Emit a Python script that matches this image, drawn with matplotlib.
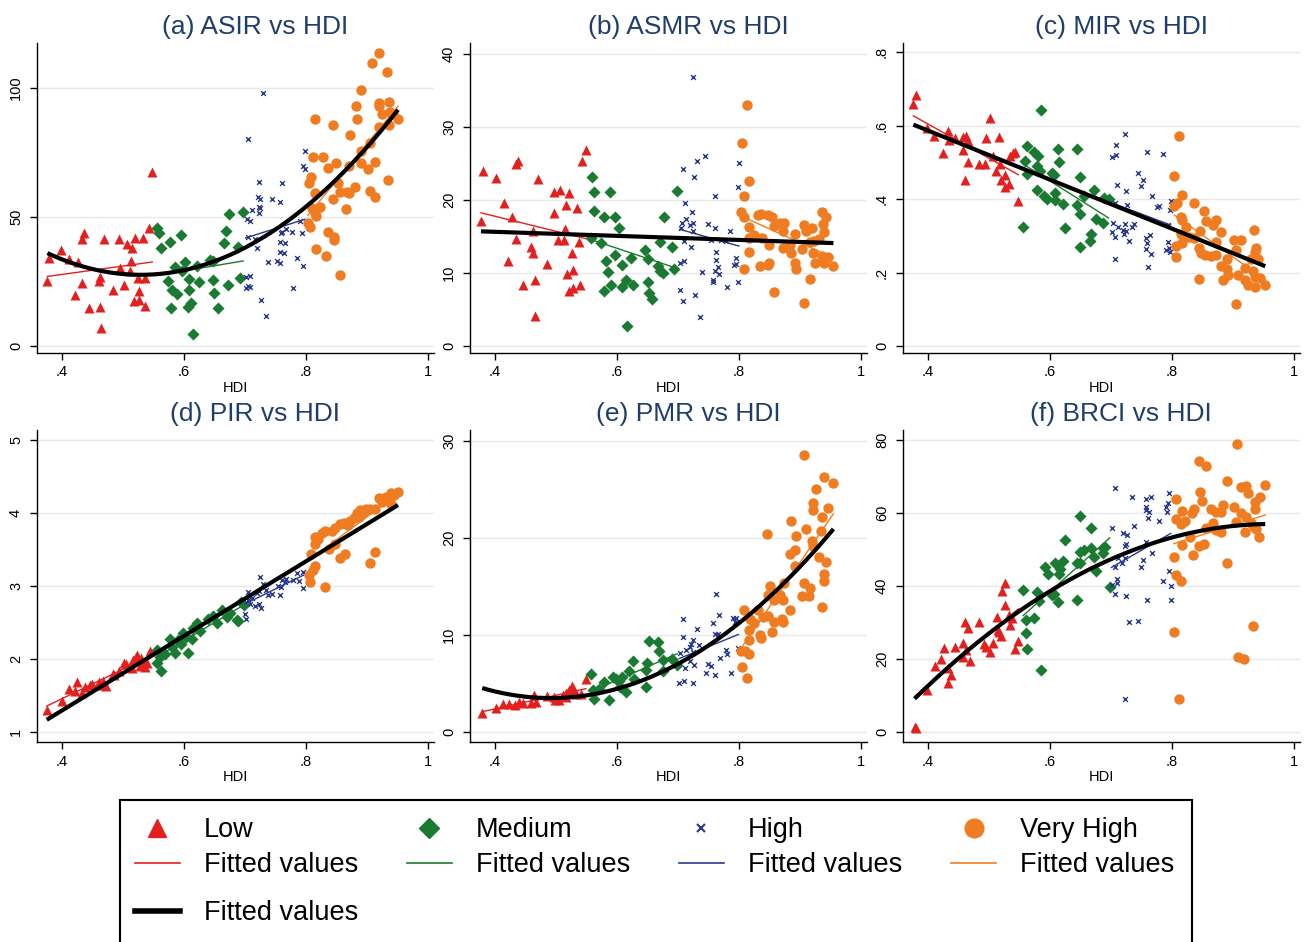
import numpy as np
import matplotlib
matplotlib.use('Agg')
import matplotlib.pyplot as plt
from matplotlib.lines import Line2D
from matplotlib.patches import Rectangle

plt.rcParams['font.family'] = ['Liberation Sans', 'DejaVu Sans']

# (HDI, value) pairs, one list per panel and HDI group
a_low = [(0.376,25.2),(0.378,34.2),(0.399,37.1),(0.412,33.6),(0.426,32.7),(0.421,19.6),(0.432,24.5),(0.436,43.7),(0.432,41.3),(0.445,14.9),(0.460,25.2),(0.462,26.7),(0.463,15.2),(0.464,7.1),(0.469,41.3),(0.483,21.6),(0.493,41.3),(0.495,30.1),(0.502,23.8),(0.506,39.4),(0.513,32.9),(0.511,29.1),(0.515,38.1),(0.518,17.4),(0.520,41.7),(0.527,21.3),(0.527,17.7),(0.525,26.5),(0.533,41.7),(0.536,26.5),(0.536,15.5),(0.542,45.9),(0.548,67.4)]
a_med = [(0.555,45.9),(0.559,43.7),(0.562,38.1),(0.577,40.3),(0.595,42.9),(0.573,25.2),(0.581,21.6),(0.588,20.0),(0.578,14.9),(0.586,30.7),(0.596,29.1),(0.602,32.7),(0.608,26.1),(0.608,21.9),(0.611,16.5),(0.607,15.2),(0.615,4.8),(0.622,31.0),(0.625,24.9),(0.643,33.3),(0.648,32.9),(0.647,25.5),(0.649,20.4),(0.655,14.9),(0.666,39.8),(0.669,44.6),(0.674,51.0),(0.673,23.5),(0.688,38.5),(0.692,26.2),(0.697,52.1)]
a_high = [(0.729,97.9),(0.705,80.4),(0.798,75.6),(0.795,69.8),(0.798,68.5),(0.723,63.7),(0.760,63.0),(0.722,57.6),(0.725,57.1),(0.744,57.1),(0.758,55.8),(0.723,54.0),(0.725,53.6),(0.711,52.6),(0.723,51.4),(0.704,49.2),(0.709,48.4),(0.705,42.4),(0.717,41.5),(0.760,44.3),(0.759,43.7),(0.768,45.5),(0.777,44.3),(0.791,48.4),(0.794,43.7),(0.758,40.3),(0.766,39.8),(0.719,38.1),(0.757,36.4),(0.764,35.9),(0.785,34.2),(0.737,32.4),(0.753,33.1),(0.757,32.0),(0.796,31.1),(0.702,26.6),(0.709,27.3),(0.705,23.3),(0.709,22.7),(0.701,22.4),(0.779,22.5),(0.727,17.8),(0.734,11.6)]
a_vh = [(0.919,113.4),(0.908,109.6),(0.933,106.1),(0.890,99.2),(0.919,94.1),(0.937,94.7),(0.882,93.0),(0.920,92.8),(0.924,89.9),(0.938,90.8),(0.943,89.9),(0.815,88.0),(0.884,87.9),(0.951,87.9),(0.937,85.5),(0.844,85.7),(0.919,84.8),(0.872,81.9),(0.905,78.8),(0.891,75.6),(0.812,73.1),(0.828,73.1),(0.849,71.1),(0.837,68.9),(0.890,71.1),(0.913,71.3),(0.871,69.6),(0.901,68.7),(0.808,65.4),(0.805,63.3),(0.853,63.0),(0.934,64.3),(0.881,61.5),(0.815,59.2),(0.856,59.6),(0.867,59.8),(0.870,59.2),(0.905,60.1),(0.914,57.9),(0.844,57.1),(0.823,54.0),(0.810,53.4),(0.865,53.1),(0.815,51.4),(0.816,50.5),(0.803,47.8),(0.806,46.0),(0.837,44.3),(0.846,42.4),(0.846,41.1),(0.816,37.5),(0.833,34.9),(0.856,27.5)]

b_low = [(0.377,17.1),(0.381,23.9),(0.401,23.0),(0.414,19.6),(0.428,17.6),(0.422,11.7),(0.434,14.7),(0.434,24.9),(0.438,25.3),(0.446,8.4),(0.459,13.6),(0.463,12.7),(0.463,15.7),(0.466,4.1),(0.466,9.1),(0.470,22.9),(0.485,11.2),(0.496,21.1),(0.497,18.2),(0.507,21.4),(0.516,19.3),(0.521,21.0),(0.514,16.0),(0.503,14.5),(0.513,14.5),(0.518,9.8),(0.521,7.5),(0.528,7.9),(0.527,12.7),(0.528,10.4),(0.534,18.9),(0.537,14.3),(0.539,8.4),(0.543,25.3),(0.549,26.9)]
b_med = [(0.559,23.2),(0.563,21.1),(0.589,21.1),(0.563,18.5),(0.579,17.7),(0.597,17.7),(0.604,16.1),(0.558,14.8),(0.574,14.1),(0.597,12.5),(0.582,11.6),(0.585,10.1),(0.609,11.1),(0.623,12.0),(0.579,7.6),(0.591,8.4),(0.608,8.1),(0.614,9.1),(0.627,8.4),(0.617,2.7),(0.646,13.2),(0.651,11.9),(0.651,8.7),(0.652,7.2),(0.657,6.5),(0.667,10.9),(0.671,10.3),(0.675,10.0),(0.670,14.2),(0.677,17.6),(0.690,13.5),(0.693,10.5),(0.699,21.2)]
b_high = [(0.725,36.8),(0.745,26.0),(0.731,25.3),(0.708,24.3),(0.726,23.2),(0.800,25.1),(0.798,21.8),(0.760,20.5),(0.711,19.6),(0.723,18.4),(0.713,17.4),(0.707,16.9),(0.725,16.9),(0.720,16.6),(0.750,16.7),(0.760,16.2),(0.705,16.1),(0.725,15.8),(0.786,15.8),(0.710,14.4),(0.754,14.5),(0.770,14.5),(0.779,14.4),(0.721,13.6),(0.762,12.9),(0.762,11.8),(0.710,11.7),(0.703,11.3),(0.795,12.1),(0.792,11.1),(0.796,11.2),(0.765,10.8),(0.739,10.2),(0.760,10.3),(0.767,9.8),(0.758,9.1),(0.758,8.8),(0.780,8.1),(0.798,8.7),(0.703,7.7),(0.728,7.0),(0.708,6.2),(0.736,4.0)]
b_vh = [(0.814,33.0),(0.805,27.8),(0.816,22.6),(0.809,20.6),(0.804,18.4),(0.809,17.6),(0.831,17.9),(0.837,18.1),(0.847,17.9),(0.855,17.7),(0.816,16.3),(0.858,16.5),(0.867,16.9),(0.874,16.9),(0.872,15.8),(0.825,15.2),(0.817,14.8),(0.838,14.8),(0.849,13.8),(0.817,12.9),(0.808,10.5),(0.835,10.9),(0.847,11.1),(0.850,11.3),(0.873,13.4),(0.884,13.8),(0.886,12.7),(0.892,15.4),(0.892,11.4),(0.894,10.5),(0.903,13.3),(0.907,16.6),(0.910,15.7),(0.920,16.2),(0.916,14.3),(0.923,14.4),(0.931,14.7),(0.921,12.7),(0.925,11.3),(0.936,18.4),(0.942,17.6),(0.938,16.7),(0.940,15.6),(0.937,12.3),(0.946,12.2),(0.939,11.4),(0.955,10.9),(0.916,9.2),(0.858,7.4),(0.907,5.9)]

c_low = [(0.380,0.683),(0.376,0.658),(0.399,0.594),(0.410,0.571),(0.425,0.526),(0.432,0.584),(0.434,0.560),(0.445,0.565),(0.458,0.569),(0.462,0.571),(0.465,0.558),(0.458,0.533),(0.465,0.502),(0.461,0.451),(0.483,0.495),(0.493,0.495),(0.495,0.565),(0.502,0.620),(0.507,0.518),(0.512,0.475),(0.517,0.570),(0.518,0.496),(0.520,0.452),(0.527,0.466),(0.526,0.432),(0.533,0.441),(0.535,0.518),(0.540,0.526),(0.543,0.527),(0.548,0.394)]
c_med = [(0.586,0.642),(0.562,0.544),(0.573,0.527),(0.580,0.518),(0.559,0.504),(0.578,0.491),(0.584,0.477),(0.562,0.468),(0.613,0.537),(0.615,0.500),(0.603,0.471),(0.607,0.466),(0.645,0.537),(0.650,0.460),(0.578,0.425),(0.590,0.407),(0.595,0.399),(0.608,0.416),(0.608,0.396),(0.622,0.387),(0.644,0.385),(0.655,0.409),(0.650,0.358),(0.673,0.425),(0.675,0.346),(0.687,0.335),(0.555,0.323),(0.625,0.322),(0.668,0.306),(0.666,0.285),(0.650,0.270),(0.689,0.402),(0.696,0.399)]
c_high = [(0.723,0.576),(0.709,0.547),(0.709,0.521),(0.701,0.514),(0.759,0.527),(0.785,0.523),(0.744,0.471),(0.753,0.452),(0.749,0.436),(0.710,0.439),(0.725,0.423),(0.768,0.407),(0.707,0.388),(0.727,0.384),(0.778,0.382),(0.776,0.378),(0.798,0.394),(0.797,0.370),(0.704,0.334),(0.711,0.325),(0.723,0.332),(0.720,0.315),(0.724,0.314),(0.734,0.325),(0.738,0.332),(0.701,0.309),(0.707,0.297),(0.722,0.306),(0.729,0.285),(0.764,0.302),(0.757,0.293),(0.759,0.279),(0.757,0.265),(0.766,0.251),(0.793,0.283),(0.790,0.261),(0.795,0.267),(0.794,0.329),(0.707,0.236),(0.760,0.214),(0.797,0.255)]
c_vh = [(0.812,0.572),(0.804,0.463),(0.816,0.410),(0.808,0.388),(0.804,0.382),(0.836,0.388),(0.853,0.367),(0.815,0.352),(0.816,0.343),(0.823,0.325),(0.872,0.342),(0.868,0.329),(0.856,0.340),(0.881,0.311),(0.846,0.313),(0.815,0.306),(0.828,0.297),(0.836,0.295),(0.806,0.271),(0.817,0.281),(0.872,0.284),(0.844,0.268),(0.848,0.253),(0.854,0.247),(0.864,0.244),(0.872,0.247),(0.806,0.242),(0.890,0.237),(0.901,0.288),(0.913,0.288),(0.905,0.261),(0.934,0.315),(0.938,0.268),(0.937,0.257),(0.941,0.236),(0.929,0.236),(0.881,0.218),(0.891,0.210),(0.919,0.211),(0.892,0.194),(0.884,0.180),(0.908,0.192),(0.920,0.180),(0.924,0.165),(0.933,0.204),(0.936,0.187),(0.945,0.186),(0.937,0.160),(0.953,0.165),(0.844,0.181),(0.905,0.114)]

d_low = [(0.375,1.30),(0.400,1.43),(0.412,1.59),(0.425,1.69),(0.421,1.56),(0.432,1.53),(0.438,1.62),(0.446,1.64),(0.460,1.69),(0.462,1.64),(0.472,1.63),(0.483,1.80),(0.494,1.84),(0.502,1.95),(0.511,1.91),(0.517,1.98),(0.523,2.05),(0.526,1.98),(0.528,1.91),(0.536,1.89),(0.545,2.11),(0.533,1.96),(0.505,1.93),(0.520,2.00),(0.530,2.02),(0.540,1.95),(0.515,1.88),(0.485,1.78),(0.450,1.66),(0.468,1.70)]
d_med = [(0.555,2.12),(0.561,2.03),(0.555,1.94),(0.562,1.84),(0.569,2.07),(0.577,2.28),(0.580,2.17),(0.586,2.08),(0.591,2.26),(0.599,2.35),(0.607,2.08),(0.613,2.28),(0.615,2.42),(0.621,2.49),(0.626,2.39),(0.648,2.59),(0.654,2.49),(0.663,2.67),(0.670,2.58),(0.675,2.63),(0.687,2.53),(0.693,2.78),(0.698,2.74),(0.688,2.52),(0.604,2.30),(0.640,2.55),(0.595,2.20)]
d_high = [(0.725,3.13),(0.729,3.03),(0.705,2.92),(0.712,2.83),(0.719,2.90),(0.723,2.93),(0.734,2.95),(0.738,2.87),(0.744,2.89),(0.758,2.87),(0.759,2.99),(0.760,3.08),(0.766,3.06),(0.768,3.10),(0.778,3.08),(0.785,3.18),(0.789,3.07),(0.796,3.19),(0.796,2.97),(0.717,2.72),(0.723,2.76),(0.726,2.70),(0.708,2.76),(0.700,2.62),(0.702,2.55),(0.705,2.81),(0.755,3.00)]
d_vh = [(0.951,4.29),(0.940,4.27),(0.932,4.22),(0.920,4.21),(0.924,4.15),(0.936,4.16),(0.939,4.13),(0.913,4.06),(0.905,4.05),(0.899,4.06),(0.889,4.04),(0.883,4.00),(0.887,3.95),(0.872,3.89),(0.869,3.83),(0.856,3.85),(0.848,3.80),(0.842,3.76),(0.832,3.76),(0.819,3.64),(0.815,3.67),(0.815,3.57),(0.848,3.57),(0.838,3.51),(0.808,3.44),(0.864,3.44),(0.856,3.39),(0.913,3.47),(0.905,3.32),(0.815,3.28),(0.812,3.22),(0.805,3.15),(0.807,3.06),(0.832,2.99),(0.945,4.25),(0.928,4.18),(0.895,4.02),(0.878,3.93),(0.862,3.86),(0.826,3.72)]

e_low = [(0.379,1.95),(0.402,2.50),(0.413,2.85),(0.423,2.91),(0.433,2.74),(0.440,3.09),(0.446,2.98),(0.459,2.98),(0.464,3.77),(0.468,3.09),(0.485,3.70),(0.496,3.60),(0.499,3.33),(0.505,3.33),(0.511,3.77),(0.516,4.05),(0.522,4.29),(0.527,4.70),(0.530,4.29),(0.533,3.87),(0.541,3.94),(0.549,5.49),(0.516,3.60)]
e_med = [(0.557,6.00),(0.560,4.29),(0.563,3.43),(0.571,4.46),(0.579,5.14),(0.587,3.26),(0.593,5.66),(0.598,5.49),(0.604,5.25),(0.609,5.66),(0.614,4.11),(0.620,6.34),(0.626,7.37),(0.628,5.49),(0.648,4.63),(0.650,7.10),(0.648,6.41),(0.652,9.36),(0.668,9.26),(0.669,8.40),(0.676,7.44),(0.675,6.34),(0.691,7.54),(0.699,6.86),(0.605,4.63)]
e_high = [(0.762,14.2),(0.768,12.1),(0.708,11.6),(0.731,10.6),(0.758,11.2),(0.760,10.1),(0.765,10.1),(0.791,11.8),(0.796,11.8),(0.794,11.3),(0.708,9.77),(0.725,9.50),(0.722,9.08),(0.720,8.81),(0.735,8.98),(0.713,8.47),(0.725,8.23),(0.704,8.12),(0.779,8.50),(0.780,8.06),(0.799,8.67),(0.769,7.58),(0.720,7.30),(0.727,6.92),(0.750,7.03),(0.755,6.79),(0.711,6.62),(0.746,6.07),(0.760,5.83),(0.787,6.07),(0.702,5.07),(0.710,5.25),(0.724,5.04)]
e_vh = [(0.907,28.6),(0.939,26.3),(0.955,25.7),(0.926,25.0),(0.922,23.6),(0.921,22.9),(0.946,23.1),(0.937,22.2),(0.886,21.8),(0.910,20.9),(0.934,20.7),(0.846,20.4),(0.894,20.2),(0.920,19.7),(0.921,19.2),(0.892,18.8),(0.884,18.3),(0.931,18.0),(0.943,17.5),(0.892,17.1),(0.939,16.3),(0.940,15.6),(0.874,15.4),(0.851,15.1),(0.907,15.4),(0.916,14.8),(0.903,14.0),(0.915,14.0),(0.847,14.1),(0.867,14.1),(0.858,13.6),(0.873,13.6),(0.936,12.9),(0.809,12.6),(0.832,12.6),(0.883,12.6),(0.818,11.6),(0.825,11.2),(0.839,11.9),(0.848,12.0),(0.858,11.3),(0.870,11.6),(0.872,11.3),(0.817,10.5),(0.834,10.0),(0.837,9.7),(0.855,10.3),(0.816,9.5),(0.804,8.4),(0.810,8.4),(0.817,8.0),(0.805,6.7),(0.814,5.6)]

f_low = [(0.378,1.4),(0.380,1.2),(0.399,11.6),(0.411,18.0),(0.421,20.0),(0.426,23.1),(0.432,13.5),(0.433,17.6),(0.438,15.7),(0.444,23.3),(0.457,24.5),(0.458,20.6),(0.463,22.4),(0.469,19.4),(0.461,30.1),(0.465,28.6),(0.484,30.2),(0.492,24.2),(0.495,23.3),(0.502,21.9),(0.507,24.5),(0.513,31.4),(0.514,27.9),(0.516,27.4),(0.520,26.3),(0.526,34.7),(0.521,38.6),(0.527,40.8),(0.534,29.4),(0.532,32.0),(0.538,31.1),(0.542,22.6),(0.548,25.0)]
f_med = [(0.556,38.8),(0.561,30.8),(0.573,31.1),(0.560,27.0),(0.563,22.7),(0.586,17.1),(0.578,38.4),(0.582,35.9),(0.592,45.2),(0.596,43.4),(0.603,37.5),(0.608,46.2),(0.607,37.9),(0.614,43.4),(0.617,44.5),(0.613,35.6),(0.622,46.9),(0.625,52.6),(0.645,46.3),(0.649,46.2),(0.645,36.1),(0.650,59.1),(0.649,49.4),(0.656,49.8),(0.667,55.8),(0.668,50.3),(0.673,48.0),(0.675,44.1),(0.687,50.5),(0.687,48.9),(0.690,50.7),(0.698,39.8)]
f_high = [(0.707,66.7),(0.734,64.4),(0.757,63.7),(0.766,64.4),(0.796,65.4),(0.794,62.8),(0.790,61.5),(0.792,60.3),(0.757,61.7),(0.758,60.8),(0.763,60.3),(0.760,58.7),(0.779,57.8),(0.701,56.0),(0.738,56.4),(0.720,54.6),(0.727,53.9),(0.758,52.1),(0.725,51.6),(0.723,50.9),(0.768,48.9),(0.711,47.7),(0.723,47.7),(0.718,46.4),(0.753,47.1),(0.706,45.2),(0.749,45.1),(0.795,44.1),(0.785,41.4),(0.798,40.0),(0.710,41.8),(0.710,40.7),(0.701,40.2),(0.707,37.7),(0.725,37.3),(0.759,36.1),(0.798,36.1),(0.729,30.2),(0.744,30.3),(0.723,8.9)]
f_vh = [(0.906,78.9),(0.844,74.3),(0.856,72.9),(0.891,68.8),(0.914,67.2),(0.921,67.4),(0.924,65.4),(0.953,67.7),(0.846,65.8),(0.806,63.7),(0.849,63.3),(0.945,64.3),(0.936,62.9),(0.884,62.2),(0.901,61.5),(0.864,61.2),(0.937,61.0),(0.837,61.2),(0.816,60.5),(0.872,60.2),(0.880,60.2),(0.833,59.9),(0.913,60.1),(0.921,59.0),(0.806,58.2),(0.822,57.9),(0.815,56.9),(0.868,57.3),(0.905,57.4),(0.929,57.3),(0.856,56.0),(0.934,56.2),(0.938,55.5),(0.872,55.3),(0.881,54.8),(0.920,54.8),(0.830,53.3),(0.942,53.3),(0.853,51.6),(0.844,50.9),(0.816,51.1),(0.835,48.4),(0.803,48.0),(0.890,46.3),(0.807,43.1),(0.815,41.3),(0.804,27.5),(0.933,29.1),(0.909,20.6),(0.918,20.1),(0.812,9.0)]

titles = ['(a) ASIR vs HDI', '(b) ASMR vs HDI', '(c) MIR vs HDI',
          '(d) PIR vs HDI', '(e) PMR vs HDI', '(f) BRCI vs HDI']
groups = ['Low', 'Medium', 'High', 'Very High']
y_ticks = [[0, 50, 100], [0, 10, 20, 30, 40], [0, 0.2, 0.4, 0.6, 0.8],
           [1, 2, 3, 4, 5], [0, 10, 20, 30], [0, 20, 40, 60, 80]]
y_ticklabels = [['0', '50', '100'], ['0', '10', '20', '30', '40'], ['0', '.2', '.4', '.6', '.8'],
                ['1', '2', '3', '4', '5'], ['0', '10', '20', '30'], ['0', '20', '40', '60', '80']]
x_ticks = [0.4, 0.6, 0.8, 1.0]
x_ticklabels = ['.4', '.6', '.8', '1']
# overall fit: quadratic where the reference curve bends, straight otherwise
fit_degree = [2, 1, 1, 1, 2, 2]

panel_data = [[a_low, a_med, a_high, a_vh], [b_low, b_med, b_high, b_vh],
              [c_low, c_med, c_high, c_vh], [d_low, d_med, d_high, d_vh],
              [e_low, e_med, e_high, e_vh], [f_low, f_med, f_high, f_vh]]
y_limits = [(-2.7, 117.4), (-0.96, 41.5), (-0.019, 0.8245),
            (0.863, 5.137), (-1.03, 31.13), (-2.74, 82.7)]

colors = ['#e2201f', '#1b7a31', '#27398c', '#f07c22']
markers = ['^', 'D', 'x', 'o']
sizes = [52, 38, 12, 56]
title_color = '#1f3f6a'

W, H = 1306, 942
fig = plt.figure(figsize=(W / 100, H / 100), dpi=100)

col_left = [37, 470, 903]
row_top = [43, 430]
row_h = [310, 312]
ax_w = 397

for i in range(6):
    r, c = divmod(i, 3)
    ax = fig.add_axes([col_left[c] / W, 1 - (row_top[r] + row_h[r]) / H, ax_w / W, row_h[r] / H])
    all_x, all_y = [], []
    for g in range(4):
        pts = np.array(panel_data[i][g])
        x, y = pts[:, 0], pts[:, 1]
        all_x.append(x)
        all_y.append(y)
        if markers[g] == 'x':
            ax.scatter(x, y, marker='x', s=sizes[g], color=colors[g], linewidths=1.0, zorder=2)
        else:
            ax.scatter(x, y, marker=markers[g], s=sizes[g], color=colors[g], linewidths=0, zorder=2)
    for g in range(4):
        x, y = all_x[g], all_y[g]
        b = np.polyfit(x, y, 1)
        xs = np.array([x.min(), x.max()])
        ax.plot(xs, np.polyval(b, xs), color=colors[g], lw=1.0, zorder=3)
    X = np.concatenate(all_x)
    Y = np.concatenate(all_y)
    q = np.polyfit(X, Y, fit_degree[i])
    xs = np.linspace(X.min(), X.max(), 200)
    ax.plot(xs, np.polyval(q, xs), color='black', lw=3.0, zorder=4, solid_capstyle='butt')

    ax.set_xlim(0.359, 1.01)
    ax.set_ylim(*y_limits[i])
    ax.set_xticks(x_ticks)
    ax.set_xticklabels(x_ticklabels)
    ax.set_yticks(y_ticks[i])
    ax.set_yticklabels(y_ticklabels[i], rotation=90, va='center')
    ax.tick_params(axis='both', direction='out', length=5, width=1, labelsize=10.5, pad=4)
    ax.tick_params(axis='y', pad=5)
    ax.set_xlabel('HDI', fontsize=10.5, labelpad=1)
    for s in ['top', 'right']:
        ax.spines[s].set_visible(False)
    for s in ['left', 'bottom']:
        ax.spines[s].set_linewidth(1.0)
    ax.yaxis.grid(True, color='#e6eaec', lw=1.0)
    ax.set_axisbelow(True)
    ax.text(0.55, 1 + 16 / row_h[r], titles[i], transform=ax.transAxes,
            ha='center', va='center', fontsize=19, color=title_color)

# legend
fs = 19.5
handles = []
labels = []
for g in range(4):
    if markers[g] == 'x':
        h = Line2D([], [], marker='x', ls='none', color=colors[g], ms=6, mew=1.5)
    elif markers[g] == 'D':
        h = Line2D([], [], marker='D', ls='none', color=colors[g], ms=10.5)
    else:
        h = Line2D([], [], marker=markers[g], ls='none', color=colors[g], ms=13.5)
    handles += [h, Line2D([], [], color=colors[g], lw=1.2)]
    labels += [groups[g], 'Fitted values']

leg1 = fig.legend(handles, labels, ncol=4, loc='upper left', bbox_to_anchor=(135 / W, 1 - 817 / H),
                  frameon=False, fontsize=fs, handlelength=1.65, handletextpad=0.9,
                  columnspacing=1.8, labelspacing=0.35, borderpad=0, borderaxespad=0)
leg2 = fig.legend([Line2D([], [], color='black', lw=4)], ['Fitted values'], loc='upper left',
                  bbox_to_anchor=(135 / W, 1 - 900 / H), frameon=False, fontsize=fs,
                  handlelength=1.65, handletextpad=0.9, borderpad=0, borderaxespad=0)

fig.patches.append(Rectangle((120 / W, -0.02), 1072 / W, (942 - 800) / H + 0.02,
                             transform=fig.transFigure, fill=False, ec='black', lw=1.5))

fig.savefig('out.png', dpi=100, facecolor='white')
